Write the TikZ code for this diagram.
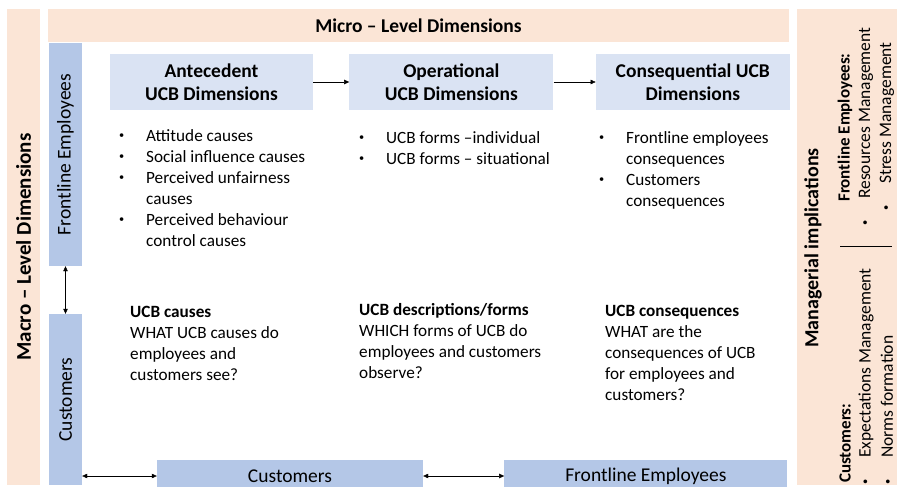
\documentclass[tikz,border=0pt]{standalone}
\usepackage{fontspec}
\setmainfont{Carlito}
\usepackage{graphicx}
\usetikzlibrary{arrows.meta,positioning}
\definecolor{peach}{RGB}{251,229,214}
\definecolor{barblue}{RGB}{180,199,231}
\definecolor{paleblue}{RGB}{218,227,243}
\newcommand{\blt}{\raisebox{0.12em}{\scalebox{0.6}{\textbullet}}}
\newcommand{\itm}{\makebox[27pt][l]{\blt}}
\newcommand{\cont}{\hspace*{27pt}}
\newcommand{\bodysize}{\fontsize{17.2}{21}\selectfont}
\tikzset{
    level bar/.style = {
        fill = peach,
        inner sep = 0pt,
        font = \fontsize{19.5}{23}\selectfont\bfseries,
        },
    actor bar/.style = {
        fill = barblue,
        inner sep = 0pt,
        font = \fontsize{19.5}{23}\selectfont,
        },
    dim box/.style = {
        fill = paleblue,
        minimum height = 56,
        align = center,
        font = \fontsize{19.5}{23}\selectfont\bfseries,
        },
    item list/.style = {
        anchor = base west,
        inner sep = 0pt,
        font = \bodysize,
        },
    side text/.style = {
        rotate = 90,
        anchor = west,
        inner sep = 0pt,
        font = \fontsize{17.5}{21}\selectfont,
        },
    side head/.style = {
        side text,
        font = \fontsize{17}{21}\selectfont\bfseries,
        },
    oneway/.style = {
        -{Triangle[length=5pt,width=4.5pt]},
        },
    twoway/.style = {
        {Triangle[length=5pt,width=4.5pt]}-{Triangle[length=5pt,width=4.5pt]},
        },
}

\begin{document}
\begin{tikzpicture}[x=1pt, y=-1pt]
    \clip (0,0) rectangle (897,487);
    % frame
    \node[level bar, minimum width=33, minimum height=476, font=\fontsize{21}{25}\selectfont\bfseries] (macro) at (23.5,247) {\rotatebox{90}{Macro – Level Dimensions}};
    \node[level bar, minimum width=741, minimum height=33] (micro) at (418.5,25.5) {Micro – Level Dimensions};
    \node[level bar, minimum width=100, minimum height=476] (mgr) at (847,247) {};

    % actors
    \node[actor bar, minimum width=33, minimum height=223] (fe) at (65.5,154.5) {\rotatebox{90}{Frontline Employees}};
    \node[actor bar, minimum width=33, minimum height=171] (cu) at (65.5,399.5) {\rotatebox{90}{Customers}};
    \node[actor bar, minimum width=266, minimum height=32] (cuh) at (290,476) {Customers};
    \node[actor bar, minimum width=283, minimum height=32, right=81pt of cuh] (feh) {Frontline Employees};

    % dimensions
    \node[dim box, minimum width=203] (ante) at (211.5,82) {Antecedent\\UCB Dimensions};
    \node[dim box, minimum width=204, right=36pt of ante] (oper) {Operational\\UCB Dimensions};
    \node[dim box, minimum width=194, right=42pt of oper] (cons) {Consequential UCB\\Dimensions};

    \draw[oneway] (ante) -- (oper);
    \draw[oneway] (oper) -- (cons);
    \draw[twoway] (fe) -- (cu);
    \draw[twoway] (cu.east |- cuh) -- (cuh);
    \draw[twoway] (cuh) -- (feh);

    % lists
    \node[item list] (antelist) at (119,141) {\begin{tabular}[t]{@{}l@{}}
        \itm Attitude causes\\
        \itm Social influence causes\\
        \itm Perceived unfairness\\
        \cont causes\\
        \itm Perceived behaviour\\
        \cont control causes
    \end{tabular}};
    \node[item list] (operlist) at (359,143) {\begin{tabular}[t]{@{}l@{}}
        \itm UCB forms –individual\\
        \itm UCB forms – situational
    \end{tabular}};
    \node[item list] (conslist) at (599,143) {\begin{tabular}[t]{@{}l@{}}
        \itm Frontline employees\\
        \cont consequences\\
        \itm Customers\\
        \cont consequences
    \end{tabular}};

    % questions
    \node[item list] (antequest) at (130,317) {\begin{tabular}[t]{@{}l@{}}
        \textbf{UCB causes}\\
        WHAT UCB causes do\\
        employees and\\
        customers see?
    \end{tabular}};
    \node[item list] (operquest) at (359,315) {\begin{tabular}[t]{@{}l@{}}
        \textbf{UCB descriptions/forms}\\
        WHICH forms of UCB do\\
        employees and customers\\
        observe?
    \end{tabular}};
    \node[item list] (consquest) at (605,316) {\begin{tabular}[t]{@{}l@{}}
        \textbf{UCB consequences}\\
        WHAT are the\\
        consequences of UCB\\
        for employees and\\
        customers?
    \end{tabular}};

    % managerial implications
    \node[level bar, rotate=90, font=\fontsize{20}{24}\selectfont\bfseries] (mgrtitle) at (813,248) {Managerial implications};
    \node[side head] (fehead) at (845,202) {Frontline Employees:};
    \node[side text] (feone) at (866,226) {\itm Resources Management};
    \node[side text] (fetwo) at (887,211) {\itm Stress Management};
    \draw (840,246) -- (892,246);
    \node[side head] (cuhead) at (845,483) {Customers:};
    \node[side text] (cuone) at (866,485) {\itm Expectations Management};
    \node[side text] (cutwo) at (887,485) {\itm Norms formation};
\end{tikzpicture}
\end{document}
